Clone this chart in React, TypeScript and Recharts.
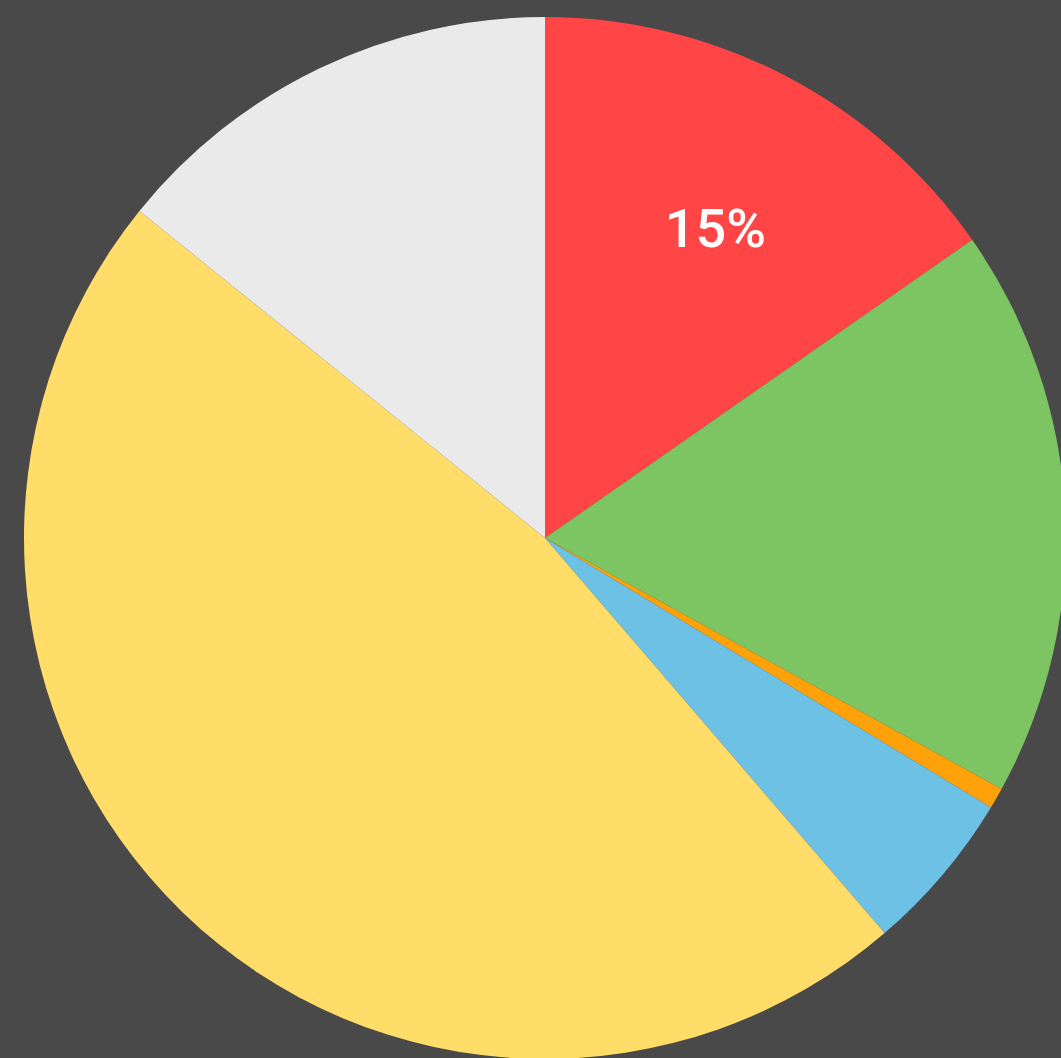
import { Cell, Pie, PieChart } from "recharts"

const categories = ["A", "B", "C", "D", "E", "F"]
const values = [15.3, 17.7, 0.65, 5.05, 47.1, 14.2]
const colors = ["#ff4545", "#7dc462", "#ffa20a", "#6cc1e4", "#ffdd68", "#eaeaea"]
const shownLabels = ["15%", "", "", "", "", ""]

const data = categories.map((name, i) => ({ name, value: values[i] }))

const RAD = Math.PI / 180

function renderLabel(props: any) {
  const { cx, cy, midAngle, outerRadius, index } = props
  const text = shownLabels[index]
  if (!text) return null
  const r = outerRadius * 0.67
  const x = cx + r * Math.cos(-midAngle * RAD)
  const y = cy + r * Math.sin(-midAngle * RAD)
  return (
    <text
      x={x}
      y={y}
      dx={9}
      fill="#ffffff"
      textAnchor="middle"
      dominantBaseline="central"
      fontFamily="Roboto, 'Noto Sans', sans-serif"
      fontWeight={500}
      fontSize={54}
    >
      {text}
    </text>
  )
}

export default function App() {
  return (
    <div style={{ position: "fixed", left: 0, top: 0, width: 1061, height: 1058, background: "#494949" }}>
      <PieChart width={1061} height={1058} margin={{ top: 0, right: 0, bottom: 0, left: 0 }}>
        <Pie
          data={data}
          dataKey="value"
          nameKey="name"
          cx={545}
          cy={538}
          outerRadius={521}
          startAngle={90}
          endAngle={-270}
          stroke="none"
          label={renderLabel}
          labelLine={false}
          isAnimationActive={false}
        >
          {data.map((d, i) => (
            <Cell key={d.name} fill={colors[i]} />
          ))}
        </Pie>
      </PieChart>
    </div>
  )
}
